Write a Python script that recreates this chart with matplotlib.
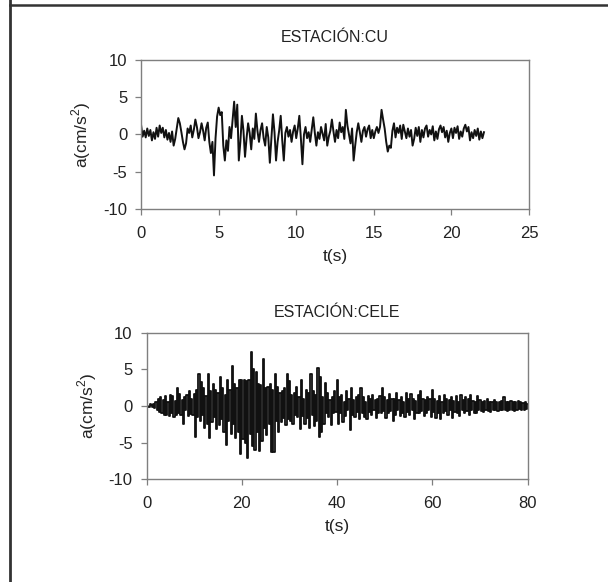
import numpy as np
import matplotlib
matplotlib.use("Agg")
import matplotlib.pyplot as plt
from matplotlib.lines import Line2D

plt.rcParams['font.family'] = ['Liberation Sans', 'DejaVu Sans']
plt.rcParams['axes.unicode_minus'] = False
plt.rcParams['mathtext.fontset'] = 'custom'
plt.rcParams['mathtext.rm'] = 'Liberation Sans'

cu_dt = 0.1
cu_acc = [
    1.3, -0.3, 0.5, -0.4, 0.8, -0.2, 0.6, -0.8, 0.3, -0.6, 0.9, -0.3, 1.2, 0.2, 0.9, -0.4, 0.6, -0.7, 0.2, -1.0, 0.4,
    -1.5, -0.6, 0.8, 2.2, 1.5, 0.3, -1.0, -2.0, -1.2, 0.8, 0.2, 1.2, -0.4, 0.6, 2.0, 1.0, -0.5, 0.3, 1.5, 0.5,
    -0.8, 0.9, 1.6, -1.0, -2.5, -1.0, -5.5, -0.5, 2.4, 3.6, 2.6, 3.0, -1.5, -3.5, -0.8, -2.2, 1.0, -0.5, 2.0, 4.4,
    1.0, 4.0, -3.5, -1.0, 2.5, 0.5, -3.0, -0.5, 1.5, 0.2, -2.0, 0.8, -0.6, 2.8, 0.5, -1.0, 0.6, 1.5, -0.5, -1.5,
    1.0, -0.4, -3.8, -0.5, 2.7, 0.3, -3.5, -1.0, 0.5, 2.5, -0.8, -3.5, 0.2, 1.0, -0.3, 0.6, -1.0, 0.4, 1.2, -0.5,
    0.8, 2.5, -0.5, -4.0, 0.0, 1.0, -0.5, 0.3, -1.0, 0.6, 2.3, 0.2, -1.5, 0.3, -0.6, 1.0, 0.1, -0.8, 1.4, -1.5,
    -0.3, 0.5, 2.0, 0.4, -1.0, 0.6, -0.5, 1.6, 0.3, 1.0, -0.6, 3.3, 1.2, 0.0, -1.2, 0.8, -3.5, -1.5, 0.3, 1.5,
    0.3, -1.0, 0.5, 1.0, -0.3, 0.7, 1.2, -0.5, 0.6, -0.5, 0.4, 1.0, 0.2, 1.0, 3.3, 2.0, 0.8, -1.0, -2.3, -1.5,
    -1.8, 0.5, 1.5, -0.4, 0.9, 0.2, 1.2, -0.6, 1.3, 0.4, -0.5, 0.8, -0.3, 0.6, -1.5, -0.6, 0.9, -0.2, 1.0, -1.0,
    0.6, -0.4, 0.8, 1.2, -0.3, 0.6, 0.0, 1.1, -0.8, 0.4, -0.6, 0.7, 1.2, 0.3, 1.0, -0.4, 0.5, -1.0, 0.2, 0.8,
    -0.5, 0.9, 0.2, 1.1, -0.6, 0.4, -0.3, 0.8, 1.3, 0.4, 1.0, -0.8, 0.3, -0.5, 0.6, -0.2, 0.8, -0.7, 0.4, -0.5,
    0.3,
]

# station CELE, sampled every 0.25 s
cele_dt = 0.25
cele_acc = [
    0.1, 0.0, -0.1, 0.2, 0.1, -0.2, 0.3, -0.3, 0.5, -0.6, 0.9, -0.8, 1.2, -1.0, 0.8, -1.3, 1.4, -1.2, 0.6, -1.4,
    1.5, -0.9, 1.3, -1.5, 0.7, -1.2, 2.4, -1.0, 1.6, -1.3, 0.8, -2.5, 1.2, -0.6, 1.5, -1.4, 2.0, -1.1, 0.9, -1.2,
    1.6, -4.3, 2.2, -1.5, 4.4, -2.0, 3.2, -1.2, 2.5, -3.0, 1.4, -2.4, 4.3, -4.4, 2.0, -2.2, 3.0, -1.5, 2.2, -3.2,
    1.8, -2.6, 4.0, -1.8, 2.4, -3.6, 1.5, -5.3, 3.5, -2.0, 2.2, -3.8, 5.5, -2.4, 3.0, -4.4, 2.5, -3.5, 3.5, -6.5,
    3.5, -4.5, 3.5, -5.0, 3.4, -7.1, 3.5, -3.8, 7.3, -5.4, 5.1, -6.0, 4.6, -3.5, 3.0, -6.2, 2.8, -4.8, 6.4, -3.0,
    2.5, -4.0, 2.6, -2.5, 3.0, -6.3, 2.2, -6.3, 4.3, -2.0, 2.6, -3.5, 1.8, -2.2, 2.0, -1.6, 2.5, -2.6, 4.3, -1.8,
    3.4, -2.0, 1.5, -2.4, 1.8, -1.2, 2.6, -1.5, 1.2, -3.2, 3.5, -1.4, 1.0, -2.5, 2.2, -1.6, 1.8, -3.0, 4.3, -1.2,
    2.0, -2.8, 1.5, -2.0, 5.2, -4.2, 4.0, -3.5, 1.2, -2.4, 3.1, -1.0, 1.8, -1.5, 0.8, -2.6, 1.2, -1.0, 2.0, -0.8,
    3.5, -2.4, 1.2, -1.0, 1.5, -2.2, 0.6, -1.4, 2.0, -0.6, 1.0, -3.3, 2.4, -1.2, 0.8, -1.5, 1.2, -0.8, 1.5, -1.8,
    2.5, -1.0, 1.2, -1.5, 0.6, -1.8, 1.4, -0.8, 0.9, -1.3, 1.5, -0.6, 0.8, -1.6, 1.0, -0.9, 1.3, -1.0, 2.4, -0.7,
    1.2, -1.6, 0.8, -1.0, 1.6, -0.7, 1.0, -2.0, 0.9, -1.2, 1.8, -0.6, 0.8, -1.4, 1.2, -1.0, 0.6, -1.5, 1.7, -0.8,
    0.9, -1.2, 1.6, -0.6, 1.0, -1.8, 0.7, -1.0, 1.5, -0.9, 2.0, -0.7, 1.0, -1.4, 0.8, -1.0, 1.2, -0.6, 0.9, -1.5,
    2.2, -0.8, 1.0, -1.6, 0.7, -0.9, 1.4, -1.8, 0.6, -1.0, 1.5, -0.7, 1.0, -1.3, 0.8, -0.6, 1.2, -1.6, 0.7, -0.8,
    1.3, -1.0, 0.6, -1.4, 1.5, -0.6, 0.8, -1.0, 1.2, -0.7, 0.9, -1.2, 1.5, -0.6, 0.7, -0.9, 0.6, -1.0, 1.3, -0.6,
    0.8, -0.7, 0.6, -0.8, 0.7, -0.5, 0.9, -0.7, 0.6, -0.8, 0.5, -0.6, 0.8, -0.5, 0.6, -0.7, 0.5, -0.6, 0.7, -0.5,
    1.2, -0.6, 0.5, -0.7, 0.6, -0.5, 0.7, -0.6, 0.5, -0.7, 0.6, -0.5, 0.7, -0.4, 0.5, -0.6, 0.4, -0.5, 0.6, -0.4,
    0.3,
]

cu_t = np.arange(len(cu_acc)) * cu_dt
cele_t = np.arange(len(cele_acc)) * cele_dt

fig = plt.figure(figsize=(6.08, 5.82), dpi=100)

# outer frame (top and left only)
fig.add_artist(Line2D([10 / 608, 1], [1 - 4.5 / 582] * 2, color='#333333', lw=1.8))
fig.add_artist(Line2D([10.3 / 608] * 2, [0, 1], color='#333333', lw=2.0))

ax1 = fig.add_axes([0.232, 0.641, 0.638, 0.256])
ax2 = fig.add_axes([0.241, 0.1765, 0.627, 0.252])


def style(ax, title, xmax, xticks, tpad):
    ax.set_xlim(0, xmax)
    ax.set_ylim(-10, 10)
    ax.set_xticks(xticks)
    ax.set_yticks([-10, -5, 0, 5, 10])
    for s in ax.spines.values():
        s.set_color('#7f7f7f')
        s.set_linewidth(1.0)
    ax.tick_params(direction='out', length=4, width=0.9, color='#7f7f7f',
                   labelsize=12, labelcolor='#222222')
    ax.tick_params(axis='x', pad=8)
    ax.tick_params(axis='y', pad=6)
    ax.set_title(title, fontsize=11.5, color='#222222', pad=tpad)
    ax.set_xlabel('t(s)', fontsize=12.5, color='#222222', labelpad=6)
    ax.set_ylabel('a(cm/s$^2$)', fontsize=12.5, color='#222222', labelpad=7)


ax1.plot(cu_t, cu_acc, color='#111111', lw=1.4)
style(ax1, 'ESTACIÓN:CU', 25, [0, 5, 10, 15, 20, 25], 13)

ax2.plot(cele_t, cele_acc, color='#111111', lw=1.3, drawstyle='steps-mid')
style(ax2, 'ESTACIÓN:CELE', 80, [0, 20, 40, 60, 80], 11.5)

fig.savefig('out.png', dpi=100)
